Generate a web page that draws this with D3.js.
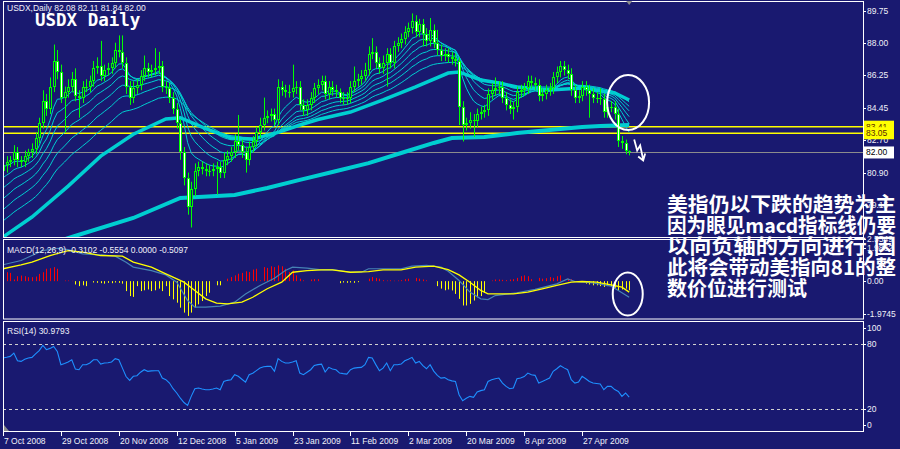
<!DOCTYPE html>
<html><head><meta charset="utf-8">
<script src="https://cdn.jsdelivr.net/npm/d3@7"></script>
<style>html,body{margin:0;padding:0;background:#191970;}svg{display:block;}</style>
</head><body>
<svg id="c" width="900" height="449"></svg>
<script>
// ---------- DATA ----------
const firstOpen = 81.0;
const closes = [
81.3,81.5,81.6,82.0,81.6,81.5,81.8,82.0,82.2,82.8,
83.6,84.8,84.4,85.6,87.0,86.4,85.0,85.3,85.6,86.0,
85.1,85.0,85.6,85.6,85.9,86.6,86.7,86.2,86.5,86.6,
86.9,87.6,87.5,86.9,85.6,85.0,85.5,85.7,86.2,86.6,
86.4,86.5,86.6,86.7,85.6,85.5,85.0,84.4,83.6,82.0,
80.6,79.0,80.0,81.0,81.2,81.1,81.0,81.0,81.1,81.2,
80.9,81.6,81.8,82.0,82.6,82.4,82.0,81.6,82.3,82.6,
83.1,83.5,83.9,84.0,84.1,83.8,85.6,85.4,85.3,85.3,
85.5,85.6,84.6,84.3,84.6,85.0,85.5,85.7,85.9,85.2,
85.6,85.4,85.3,85.0,84.9,85.0,85.6,85.9,86.0,86.2,
86.5,87.4,87.5,86.9,86.6,86.9,87.4,86.9,87.8,88.0,
88.2,88.6,88.8,89.2,88.6,89.0,88.5,88.1,88.7,88.0,
87.6,87.3,87.4,87.2,87.1,87.0,84.5,83.5,83.6,83.8,
83.7,84.1,84.2,84.3,85.2,85.4,85.5,85.6,85.0,84.6,
84.4,84.5,85.3,85.4,85.5,85.9,85.8,85.7,85.1,85.2,
85.4,85.5,86.1,86.4,86.7,86.5,86.3,85.4,85.0,85.1,
85.6,85.4,85.2,85.0,85.0,84.9,84.2,84.5,84.5,84.1,
82.6,82.5,82.08,82.00];
const upperWick = [
0.3,0.3,0.2,0.4,0.3,0.2,0.3,0.2,0.3,0.3,
0.3,0.6,0.4,0.5,0.9,0.6,0.4,0.3,0.4,0.4,
0.6,0.3,0.3,0.4,0.3,0.4,0.5,1.4,0.3,0.3,
0.3,0.4,0.8,0.9,0.3,0.3,0.4,0.3,0.3,0.7,
0.3,0.3,1.1,0.8,0.3,0.3,0.3,0.3,0.3,0.2,
0.3,0.3,0.4,0.4,0.3,0.3,0.3,0.3,0.3,0.3,
0.3,0.4,0.3,0.3,0.4,1.45,0.3,0.3,0.3,0.3,
0.3,0.4,1.1,0.3,0.3,0.3,0.4,0.3,0.3,0.4,
1.3,0.3,0.3,0.3,0.3,0.3,0.3,0.3,0.3,0.3,
0.3,0.3,0.3,0.2,0.3,0.3,0.3,0.8,0.3,0.3,
0.4,0.4,0.75,0.3,0.3,0.4,0.3,0.3,0.3,0.3,
0.3,0.3,0.3,0.4,0.3,0.3,0.3,0.3,0.65,0.3,
0.7,0.3,0.3,0.3,0.3,0.3,0.2,0.3,0.3,0.4,
0.3,0.3,0.3,0.3,0.3,0.4,0.6,0.3,0.3,0.3,
0.3,0.3,0.3,0.3,0.3,0.3,0.3,0.3,0.3,0.3,
0.3,0.3,0.3,0.3,0.3,0.3,0.3,0.3,0.3,0.3,
0.3,0.3,0.3,0.3,0.3,0.5,0.3,0.3,0.3,0.3,
0.3,0.3,0.2,0.03];
const lowerWick = [
0.3,0.4,0.3,0.3,0.4,0.3,0.3,0.3,0.3,0.3,
0.3,0.3,0.4,0.3,0.3,0.4,0.3,1.9,0.3,0.3,
0.3,1.1,0.3,0.3,0.3,0.3,0.3,0.3,0.3,0.3,
0.3,0.3,0.3,0.3,0.4,0.4,0.3,0.3,0.3,0.3,
0.3,0.3,0.3,0.3,0.3,0.3,0.3,0.3,0.3,0.4,
0.4,0.4,1.1,0.4,0.3,0.3,0.3,0.3,0.3,1.4,
0.3,0.3,0.3,0.3,0.3,0.3,0.3,0.7,0.3,0.3,
0.3,0.3,0.3,0.3,0.3,0.3,0.3,0.3,0.3,0.3,
0.3,0.3,0.3,0.3,0.3,0.3,0.3,0.3,0.3,0.3,
0.3,0.3,0.3,0.3,0.3,0.3,0.3,0.3,0.3,0.3,
0.3,0.3,0.3,0.3,0.3,0.3,1.3,0.3,0.3,0.3,
0.3,0.3,0.3,0.3,0.3,0.3,0.7,0.3,0.3,0.3,
0.3,0.3,0.3,0.3,0.3,0.3,1.0,0.9,0.3,0.3,
0.85,0.3,0.3,0.3,0.3,0.3,0.3,0.3,0.3,0.3,
0.3,0.6,0.3,0.3,0.3,0.3,0.3,0.3,0.3,0.3,
0.3,0.3,0.3,0.3,0.3,0.3,0.3,0.3,0.3,0.3,
0.3,0.3,1.3,0.3,0.3,0.3,0.3,0.3,0.3,0.3,
0.3,0.3,0.18,0.16];

const dateLabels = ["7 Oct 2008","29 Oct 2008","20 Nov 2008","12 Dec 2008","5 Jan 2009","23 Jan 2009","11 Feb 2009","2 Mar 2009","20 Mar 2009","8 Apr 2009","27 Apr 2009"];
const dateBars = [0,16,32,48,64,80,96,112,128,144,160];

// EMA ribbon (periods and starting values read at the left edge)
const thinPeriods = [8,12,17,23,30,40];
const thinSeeds = [81.2,80.5,79.9,79.3,78.7,78.1];
// thick moving averages: [bar, value]
const midMA = [[0,77.38],[8,78.47],[18,80.16],[27,81.8],[36,83.0],[45,83.83],[49,83.9],[56,83.3],[63,82.79],[69,82.73],[76,83.1],[82,83.5],[87,83.8],[96,84.21],[105,84.87],[114,85.58],[123,86.34],[126,86.4],[132,85.96],[137,85.8],[142,85.58],[151,85.41],[160,85.52],[169,85.25],[173,84.87]];
const longMA = [[0,76.2],[19,77.38],[36,78.42],[49,79.51],[54,79.57],[64,79.68],[73,80.06],[82,80.5],[91,80.93],[101,81.42],[110,81.97],[119,82.52],[124,82.79],[133,82.84],[142,83.06],[151,83.23],[160,83.39],[165,83.45],[173,83.5]];

const priceTicks = [89.75,88.00,86.25,84.45,82.70,80.90,79.15];
const levelLines = [83.41,83.05];
const bidLevel = 82.00;

// MACD
const macdMain = [[0,0.99],[5,1.25],[8,1.55],[11,1.85],[15,1.99],[18,1.91],[22,1.65],[27,1.59],[31,1.51],[34,1.15],[36,0.85],[41,0.64],[45,0.38],[48,-0.06],[51,-1.17],[53,-1.57],[56,-1.57],[60,-1.51],[64,-1.27],[67,-0.77],[71,-0.26],[75,0.18],[78,0.64],[80,0.85],[84,0.79],[88,0.68],[91,0.70],[96,0.54],[99,0.54],[101,0.75],[105,0.75],[110,0.75],[113,0.91],[117,0.95],[121,0.85],[123,0.6],[126,0.04],[129,-0.66],[132,-1.07],[134,-1.11],[136,-0.87],[142,-0.70],[147,-0.50],[153,-0.16],[156,0.14],[158,-0.02],[163,-0.10],[168,-0.30],[170,-0.56],[173,-0.97]];
const macdSignal = [[0,0.75],[5,0.99],[8,1.15],[13,1.55],[18,1.85],[22,1.75],[27,1.55],[33,1.51],[36,1.15],[41,0.85],[45,0.44],[50,-0.06],[53,-0.56],[56,-1.07],[59,-1.33],[62,-1.37],[66,-1.27],[69,-0.97],[73,-0.46],[77,-0.06],[80,0.54],[84,0.64],[88,0.68],[91,0.68],[96,0.54],[101,0.58],[105,0.68],[110,0.68],[114,0.85],[119,0.91],[123,0.7],[126,0.38],[129,-0.06],[132,-0.56],[134,-0.77],[141,-0.77],[145,-0.66],[149,-0.46],[153,-0.26],[157,-0.06],[160,-0.02],[164,-0.06],[168,-0.22],[171,-0.36],[173,-0.66]];
const macdHist = [
0.58,0.54,0.50,0.10,0.30,0.34,0.30,0.24,0.24,0.28,
0.44,0.54,0.75,0.78,0.85,0.75,0,0.04,0.04,0.02,
-0.2,-0.3,-0.25,-0.3,0,-0.08,-0.1,-0.12,-0.15,-0.1,
-0.12,-0.08,-0.1,-0.15,-0.6,-0.9,-0.95,-0.3,-0.6,-0.55,
-0.5,-0.6,-0.55,-0.45,-0.6,-0.3,-0.9,-1.1,-1.3,-1.6,
-1.9,-2.1,-1.9,-1.6,-1.4,-1.2,-0.9,-0.7,0,-0.25,
-0.25,0,0.15,0.25,0.35,0.45,0.5,0.6,0.55,0.7,
0.75,0.05,0.85,0.8,0.9,0.85,0.95,0.9,0.75,0.55,
0.65,0.35,0.15,0.05,0,0.1,0.12,0.12,0,0,
0,0,0,-0.12,-0.08,-0.1,-0.08,-0.1,-0.06,0,
0,0.15,0.25,0.2,0.15,0.06,0.04,0.05,0.03,0.04,
0.06,0.12,0.15,0,0.2,0.15,0.1,0.05,0,0,
-0.3,-0.45,-0.55,-0.5,-0.56,-0.77,-1.07,-1.47,-1.47,-1.37,
-1.17,-0.97,-0.9,-0.7,0,0.04,0.1,0.1,0.08,0.06,
0.1,0.12,0.2,0.3,0.35,0.3,0.12,0,0.2,0.15,
0.18,0.25,0.2,0.3,0.35,0.05,0.15,0.12,0,0,
0,-0.15,-0.2,-0.25,-0.25,-0.3,-0.35,-0.3,-0.35,-0.4,
-0.55,-0.5,-0.45,-0.55];
const macdTicks = [2.55,1.9862,0,-1.9745];
const macdTickLabels = ["2.5549","1.9862","0.00","-1.9745"];

// RSI(14)
const rsi = [
67.1,67.8,68.6,71.7,64.6,64.0,66.0,67.1,67.7,71.0,
74.0,78.8,74.8,76.0,77.8,73.2,60.9,62.0,63.5,65.5,
56.9,56.3,60.9,60.9,62.5,65.5,65.5,61.5,62.5,62.8,
63.5,66.5,65.5,57.8,50.0,46.5,50.2,50.8,54.0,56.3,
54.8,55.2,55.4,55.4,48.6,47.1,44.0,38.8,34.8,30.0,
26.0,23.4,31.7,38.8,39.4,38.5,37.8,37.8,38.5,39.4,
37.8,45.5,46.5,47.1,51.7,50.2,47.5,44.9,51.7,53.0,
55.5,57.8,59.0,59.4,59.4,54.8,66.5,64.0,62.5,62.5,
63.5,64.6,53.2,51.7,54.0,56.3,60.3,61.0,61.5,54.2,
58.5,57.0,56.3,53.2,52.7,52.3,56.3,57.8,58.2,58.5,
60.9,67.7,67.1,61.0,55.4,57.8,62.5,55.4,60.9,60.9,
61.5,64.6,66.0,67.7,62.5,64.0,60.0,57.2,60.9,55.0,
51.1,48.6,49.0,47.1,46.0,45.5,33.2,27.7,30.0,31.7,
30.8,35.7,37.0,37.8,45.5,47.0,48.0,48.6,44.0,40.9,
38.8,39.4,48.0,48.6,50.0,53.2,51.7,51.1,44.0,45.5,
47.0,48.6,54.8,57.2,60.0,58.0,56.3,47.1,44.0,44.9,
50.2,48.0,45.5,44.0,43.6,43.1,37.8,40.9,40.9,38.0,
36.3,31.7,34.8,30.98];
const rsiLevels = [80,20];
const rsiTicks = [100,80,20,0];

const titleText = "USDX,Daily  82.08 82.11 81.84 82.00";
const macdText = "MACD(12,26,9) -0.3102 -0.5554 0.0000 -0.5097";
const rsiText = "RSI(14) 30.9793";
const noteLines = ["美指仍以下跌的趋势为主","因为眼见macd指标线仍要","以向负轴的方向进行,因","此将会带动美指向81的整","数价位进行测试"];

// ---------- DRAW ----------
const svg = d3.select("#c");
const W = 900;
const BG = "#191970", LIME = "#00ff00", CYAN = "#00CED1";
const axisFont = "'Liberation Sans', Arial, sans-serif";

const x = d3.scaleLinear().domain([0, 237.6]).range([3, 863]);
const yP = d3.scaleLinear().domain([77.38, 90.17]).range([237, 3]);
const yM = d3.scaleLinear().domain([-2.256, 2.458]).range([318.5, 240.5]);
const yR = d3.scaleLinear().domain([0, 100]).range([430.7, 322.4]);

svg.append("rect").attr("width", W).attr("height", 449).attr("fill", BG);

const defs = svg.append("defs");
function clip(id, x0, y0, w, h) {
  defs.append("clipPath").attr("id", id).append("rect").attr("x", x0).attr("y", y0).attr("width", w).attr("height", h);
}
clip("cMain", 3.5, 1.5, 859.5, 235.5);
clip("cMacd", 3.5, 239.5, 859.5, 79.5);
clip("cRsi", 3.5, 322, 859.5, 109);

// ---- main panel ----
const gMain = svg.append("g").attr("clip-path", "url(#cMain)");
const line = d3.line();

gMain.append("line").attr("x1", 3).attr("x2", 863).attr("y1", Math.round(yP(bidLevel)) + 0.5).attr("y2", Math.round(yP(bidLevel)) + 0.5)
  .attr("stroke", "#8c8c8c").attr("stroke-width", 1.2);
levelLines.forEach(v => {
  gMain.append("line").attr("x1", 3).attr("x2", 863).attr("y1", yP(v)).attr("y2", yP(v))
    .attr("stroke", "#ffff00").attr("stroke-width", 1.6);
});

gMain.append("path").attr("d", line.x(d => x(d[0])).y(d => yP(d[1]))(longMA))
  .attr("fill", "none").attr("stroke", CYAN).attr("stroke-width", 4);
gMain.append("path").attr("d", line.x(d => x(d[0])).y(d => yP(d[1]))(midMA))
  .attr("fill", "none").attr("stroke", CYAN).attr("stroke-width", 3.5);

thinPeriods.forEach((p, k) => {
  let e = thinSeeds[k];
  const a = 2 / (p + 1);
  const pts = closes.map((c, i) => { e += a * (c - e); return [i, e]; });
  gMain.append("path").attr("d", line.x(d => x(d[0])).y(d => yP(d[1]))(pts))
    .attr("fill", "none").attr("stroke", CYAN).attr("stroke-width", 1);
});

const candles = closes.map((c, i) => {
  const o = i === 0 ? firstOpen : closes[i - 1];
  return { i, o, c, h: Math.max(o, c) + upperWick[i], l: Math.min(o, c) - lowerWick[i] };
});
const gC = gMain.append("g");
candles.forEach(d => {
  const cx = Math.round(x(d.i));
  gC.append("line").attr("x1", cx + 0.5).attr("x2", cx + 0.5).attr("y1", yP(d.h)).attr("y2", yP(d.l))
    .attr("stroke", LIME).attr("stroke-width", 1);
  const top = Math.round(yP(Math.max(d.o, d.c)));
  const bot = Math.round(yP(Math.min(d.o, d.c)));
  const h = Math.max(1, bot - top);
  gC.append("rect").attr("x", cx - 1).attr("y", top).attr("width", 3).attr("height", h).attr("fill", LIME);
  if (h > 2) {
    gC.append("rect").attr("x", cx).attr("y", top + 1).attr("width", 1).attr("height", h - 2)
      .attr("fill", d.c >= d.o ? BG : "#ffffff");
  }
});

// ---- MACD panel ----
const gM = svg.append("g").attr("clip-path", "url(#cMacd)");
macdHist.forEach((v, i) => {
  if (v === 0) return;
  const cx = Math.round(x(i)) + 0.5;
  gM.append("line").attr("x1", cx).attr("x2", cx).attr("y1", yM(0)).attr("y2", yM(v))
    .attr("stroke", v > 0 ? "#ff0000" : "#ffff00").attr("stroke-width", 1);
});
gM.append("path").attr("d", line.x(d => x(d[0])).y(d => yM(d[1]))(macdMain))
  .attr("fill", "none").attr("stroke", "#4682B4").attr("stroke-width", 1.2);
gM.append("path").attr("d", line.x(d => x(d[0])).y(d => yM(d[1]))(macdSignal))
  .attr("fill", "none").attr("stroke", "#ffff00").attr("stroke-width", 1.3);

// ---- RSI panel ----
const gR = svg.append("g").attr("clip-path", "url(#cRsi)");
rsiLevels.forEach(v => {
  gR.append("line").attr("x1", 3).attr("x2", 863).attr("y1", Math.round(yR(v)) + 0.5).attr("y2", Math.round(yR(v)) + 0.5)
    .attr("stroke", "#d0d0d0").attr("stroke-width", 1).attr("stroke-dasharray", "3,3");
});
gR.append("path").attr("d", line.x((d, i) => x(i)).y(d => yR(d))(rsi))
  .attr("fill", "none").attr("stroke", "#1E90FF").attr("stroke-width", 1.1);

// ---- frames ----
const frame = svg.append("g").attr("fill", "none").attr("stroke", "#ffffff").attr("stroke-width", 1);
frame.append("rect").attr("x", 3.5).attr("y", 1.5).attr("width", 860).attr("height", 236);
frame.append("rect").attr("x", 3.5).attr("y", 239.5).attr("width", 860).attr("height", 79.5);
frame.append("rect").attr("x", 3.5).attr("y", 321.5).attr("width", 860).attr("height", 110);

// ---- right axes ----
const axG = svg.append("g").attr("font-family", axisFont).attr("font-size", 8.5).attr("fill", "#f0f0f8");
function rightLabel(y, txt) {
  axG.append("line").attr("x1", 863).attr("x2", 866).attr("y1", Math.round(y) + 0.5).attr("y2", Math.round(y) + 0.5)
    .attr("stroke", "#ffffff");
  axG.append("text").attr("x", 867).attr("y", y).attr("dominant-baseline", "central").text(txt);
}
priceTicks.forEach(v => rightLabel(yP(v), v.toFixed(2)));
macdTicks.forEach((v, k) => rightLabel(yM(v), macdTickLabels[k]));
rsiTicks.forEach(v => rightLabel(yR(v) + (v === 100 ? 6 : v === 0 ? -6 : 0), String(v)));

function priceBox(v, bg, fg) {
  const y = yP(v);
  axG.append("rect").attr("x", 864).attr("y", y - 6).attr("width", 30).attr("height", 12).attr("fill", bg);
  axG.append("text").attr("x", 866).attr("y", y).attr("dominant-baseline", "central").attr("fill", fg).text(v.toFixed(2));
}
priceBox(levelLines[0], "#ffff00", "#5a2a00");
priceBox(levelLines[1], "#ffff00", "#5a2a00");
priceBox(bidLevel, "#ffffff", "#000000");

// ---- date axis ----
const dG = svg.append("g").attr("font-family", axisFont).attr("font-size", 8.5).attr("fill", "#f0f0f8");
dateBars.forEach((b, k) => {
  const tx = Math.round(x(b)) + 0.5;
  dG.append("line").attr("x1", tx).attr("x2", tx).attr("y1", 431).attr("y2", 436).attr("stroke", "#ffffff");
  dG.append("text").attr("x", tx + 0.5).attr("y", 444).text(dateLabels[k]);
});

// ---- panel labels ----
const lG = svg.append("g").attr("font-family", axisFont).attr("font-size", 8.5).attr("fill", "#f0f0f8");
lG.append("text").attr("x", 7).attr("y", 11).text(titleText);
lG.append("text").attr("x", 7).attr("y", 253).text(macdText);
lG.append("text").attr("x", 7).attr("y", 334).text(rsiText);

svg.append("text").attr("x", 35).attr("y", 26).attr("font-family", "'DejaVu Sans Mono', monospace")
  .attr("font-weight", "bold").attr("font-size", 17.5).attr("fill", "#ffffff").text("USDX Daily");

const lastBar = closes.length - 1;
svg.append("path").attr("d", `M${x(lastBar) - 3},1 L${x(lastBar) + 3},1 L${x(lastBar)},5 Z`).attr("fill", "#8c8c8c");
svg.append("path").attr("d", "M4,431 L4,425 L9,431 Z").attr("fill", "#8c8c8c");

// ---- annotations ----
const ann = svg.append("g").attr("fill", "none").attr("stroke", "#ffffff").attr("stroke-width", 2);
ann.append("ellipse").attr("cx", x(lastBar - 0.3)).attr("cy", yP(84.73)).attr("rx", 21).attr("ry", 27.5);
ann.append("ellipse").attr("cx", x(lastBar - 0.4)).attr("cy", yM(-0.775)).attr("rx", 15).attr("ry", 21.5);
const ax0 = x(lastBar) + 5, ay0 = yP(82.6);
ann.append("path").attr("stroke-width", 1.8)
  .attr("d", `M${ax0},${ay0 - 2} L${ax0 + 3},${ay0 + 9} L${ax0 + 6},${ay0 + 4} L${ax0 + 9},${ay0 + 18} M${ax0 + 4},${ay0 + 15} L${ax0 + 9},${ay0 + 19} L${ax0 + 11},${ay0 + 12}`);

// ---- Chinese note (drawn over the chart, as in the original) ----
const nG = svg.append("g").attr("font-family", "'Noto Sans CJK SC', sans-serif").attr("font-weight", "bold")
  .attr("font-size", 20).attr("fill", "#ffffff");
noteLines.forEach((t, k) => {
  const tx = nG.append("text").attr("x", 667).attr("y", 203.5 + k * 21).attr("dominant-baseline", "central").text(t);
  if (k < noteLines.length - 1) tx.attr("textLength", 229).attr("lengthAdjust", "spacingAndGlyphs");
});
</script>
</body></html>
